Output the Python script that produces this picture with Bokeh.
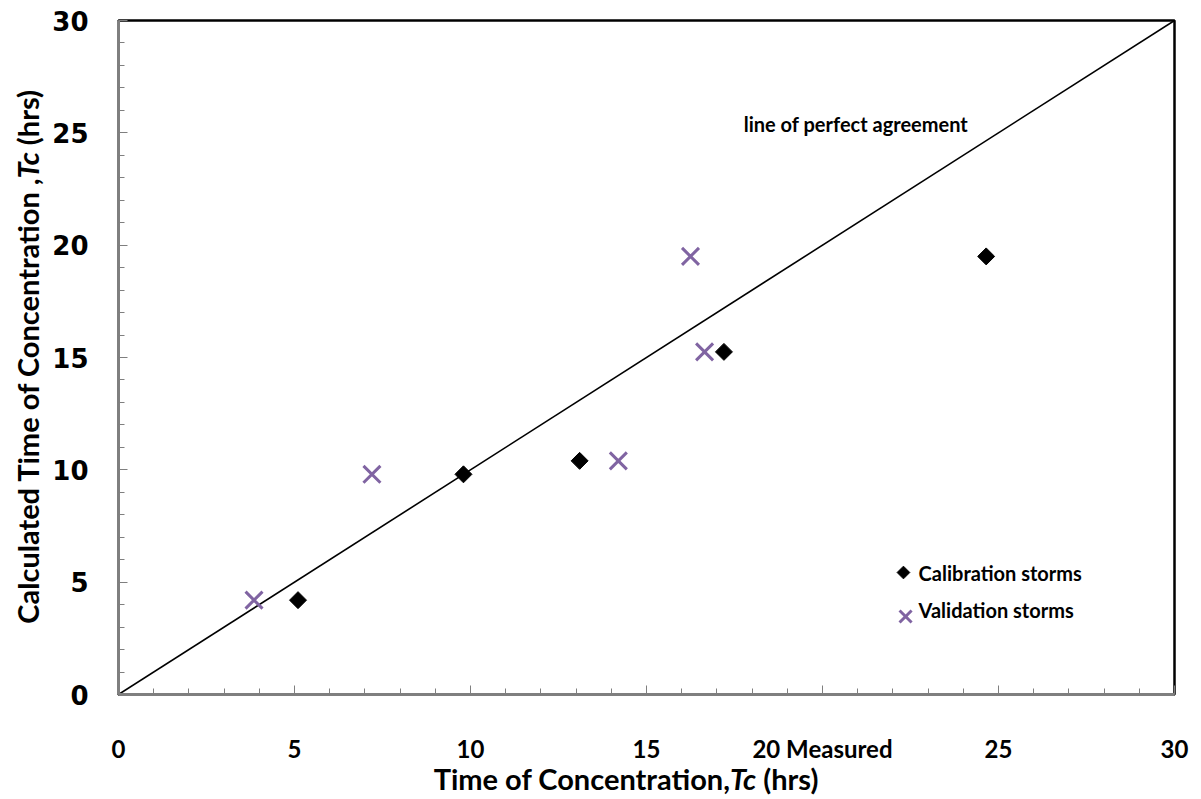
import math
from bokeh.plotting import figure
from bokeh.models import Range1d, Label, FixedTicker, Div
from bokeh.layouts import row, column
from bokeh.embed import file_html
from bokeh.resources import INLINE

# ---- data ----
calib_x = [5.1, 9.8, 13.1, 17.2, 24.65]
calib_y = [4.2, 9.8, 10.4, 15.25, 19.5]
valid_x = [3.85, 7.2, 14.2, 16.25, 16.65]
valid_y = [4.2, 9.8, 10.4, 19.5, 15.25]
line_x = [0, 30]
line_y = [0, 30]
major_ticks = [0, 5, 10, 15, 20, 25, 30]
minor_ticks = list(range(0, 31))
x_tick_labels = {20: "20 Measured"}
series_names = ["Calibration storms", "Validation storms"]
x_title_html = "Time of Concentration,<i>Tc</i> (hrs)"
y_title_html = "Calculated Time of Concentration ,<i>Tc</i> (hrs)"

FONT = "Lato"
PURPLE = "#8064A2"
YDIV_W = 46
TITLE_SIZE = "29px"

p = figure(width=1193 - YDIV_W, height=765, output_backend="svg", toolbar_location=None,
           x_range=Range1d(0, 30), y_range=Range1d(0, 30), margin=0)
p.min_border_left = 118 - YDIV_W
p.min_border_right = 19
p.min_border_top = 20
p.min_border_bottom = 71
p.background_fill_color = "white"
p.border_fill_color = "white"
p.outline_line_color = "black"
p.outline_line_width = 2.5
p.grid.visible = False

for ax in (p.xaxis[0], p.yaxis[0]):
    ax.ticker = FixedTicker(ticks=major_ticks, minor_ticks=minor_ticks)
    ax.axis_line_color = "#7f7f7f"
    ax.axis_line_width = 3
    ax.major_tick_in = 9
    ax.major_tick_out = 0
    ax.minor_tick_in = 6
    ax.minor_tick_out = 0
    ax.major_tick_line_color = "#7f7f7f"
    ax.minor_tick_line_color = "#7f7f7f"
    ax.major_tick_line_width = 1
    ax.minor_tick_line_width = 1
    ax.major_label_text_color = "black"
    ax.major_label_text_font_style = "bold"

p.xaxis.major_label_text_font = FONT
p.xaxis.major_label_text_font_size = "24px"
p.xaxis.major_label_standoff = 39
p.xaxis.major_label_overrides = x_tick_labels

p.yaxis.major_label_text_font = "DejaVu Sans"
p.yaxis.major_label_text_font_size = "26px"
p.yaxis.major_label_standoff = 30

# perfect agreement line
p.line(line_x, line_y, line_color="black", line_width=1.6)

p.scatter(calib_x, calib_y, marker="square", angle=math.pi / 4, size=12,
          fill_color="black", line_color="black")
p.scatter(valid_x, valid_y, marker="x", size=24, line_color=PURPLE, line_width=3)

p.add_layout(Label(x=20.95, y=25.4, text="line of perfect agreement",
                   text_font=FONT, text_font_style="bold", text_font_size="20px",
                   text_color="black", text_align="center", text_baseline="middle"))

# legend (drawn manually so the keys match the plot markers)
p.scatter([22.3], [5.43], marker="square", angle=math.pi / 4, size=9,
          fill_color="black", line_color="black")
p.scatter([22.36], [3.47], marker="x", size=17, line_color=PURPLE, line_width=3)
p.add_layout(Label(x=22.73, y=5.43, text=series_names[0], text_font=FONT,
                   text_font_style="bold", text_font_size="20px", text_color="black",
                   text_align="left", text_baseline="middle"))
p.add_layout(Label(x=22.73, y=3.74, text=series_names[1], text_font=FONT,
                   text_font_style="bold", text_font_size="20px", text_color="black",
                   text_align="left", text_baseline="middle"))

# axis titles as HTML (mixed italic)
ydiv = Div(width=YDIV_W, height=765, margin=0, text=(
    '<div style="width:%dpx;height:714px;box-sizing:border-box;padding-left:8px;'
    'display:flex;align-items:center;justify-content:center;">'
    '<span style="writing-mode:vertical-rl;transform:rotate(180deg);white-space:nowrap;'
    'font-family:Lato;font-weight:bold;font-size:%s;color:black;line-height:1;">%s</span>'
    '</div>' % (YDIV_W, TITLE_SIZE, y_title_html)))

xdiv = Div(width=1193, height=30, margin=0, text=(
    '<div style="width:1193px;box-sizing:border-box;padding-left:59px;text-align:center;'
    'white-space:nowrap;font-family:Lato;font-weight:bold;font-size:%s;color:black;'
    'line-height:28px;">%s</div>' % (TITLE_SIZE, x_title_html)))

layout = column(row(ydiv, p, spacing=0), xdiv, spacing=0)

open("out.html", "w").write(file_html(layout, INLINE))
